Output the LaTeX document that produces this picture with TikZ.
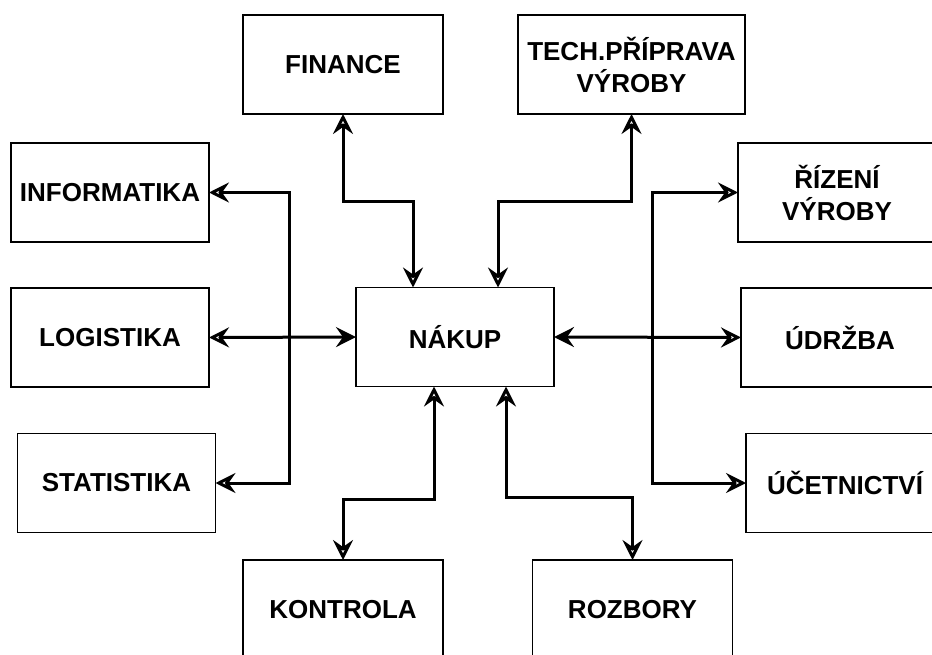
\documentclass[tikz,border=0pt]{standalone}
\usepackage{fontspec}
\setmainfont{Liberation Sans}
\usetikzlibrary{arrows.meta, positioning, calc}
\definecolor{oLine}{HTML}{000000}
\tikzset{
  oopen/.tip={Stealth[open, length=20pt, width=20pt, inset=7pt]},
  ofull/.tip={Stealth[length=20pt, width=20pt, inset=7pt]},
  obox/.style={draw=oLine, line width=1.6pt, minimum width=198pt, minimum height=99pt,
               inner sep=0pt, outer sep=0pt, align=center,
               font=\fontsize{26}{32}\selectfont\bfseries},
  olink/.style={oLine, line width=3pt, oopen-oopen},
}
\begin{document}
\begin{tikzpicture}[x=1pt, y=-1pt]
    \useasboundingbox (0,0) rectangle (932,655);
    \clip (0,0) rectangle (932,655);
    \node[obox] (nakup) at (455,337) {NÁKUP};
    \node[obox, minimum width=200pt] (fin) at (343,64.5) {FINANCE};
    \node[obox, minimum width=227pt] (tech) at (631.5,64.5) {TECH.PŘÍPRAVA\\VÝROBY};
    \node[obox] (info) at (110,192.5) {INFORMATIKA};
    \node[obox] (logis) at (110,337.5) {LOGISTIKA};
    \node[obox] (stat) at (116.5,483) {STATISTIKA};
    \node[obox] (rizeni) at (837,192.5) {ŘÍZENÍ\\VÝROBY};
    \node[obox] (udrz) at (840,337.5) {ÚDRŽBA};
    \node[obox] (ucet) at (845,483) {ÚČETNICTVÍ};
    \node[obox, minimum width=200pt] (kontr) at (343,609.5) {KONTROLA};
    \node[obox, minimum width=200pt] (rozb) at (632.5,609.5) {ROZBORY};
    \draw[olink] (fin.south) -- ++(0,88) -| ([xshift=-42pt]nakup.north);
    \draw[olink] (tech.south) -- ++(0,88) -| ([xshift=43pt]nakup.north);
    \draw[olink] ([xshift=-21pt]nakup.south) -- ++(0,113) -| (kontr.north);
    \draw[olink] ([xshift=51pt]nakup.south) -- ++(0,111) -| (rozb.north);
    \draw[olink] (info.east) -- ++(80,0) |- (stat.east);
    \draw[olink, oopen-ofull] (logis.east) -- (nakup.west);
    \draw[olink] (rizeni.west) -- ++(-86,0) |- (ucet.west);
    \draw[olink, oopen-ofull] (udrz.west) -- (nakup.east);
  \end{tikzpicture}
\end{document}
